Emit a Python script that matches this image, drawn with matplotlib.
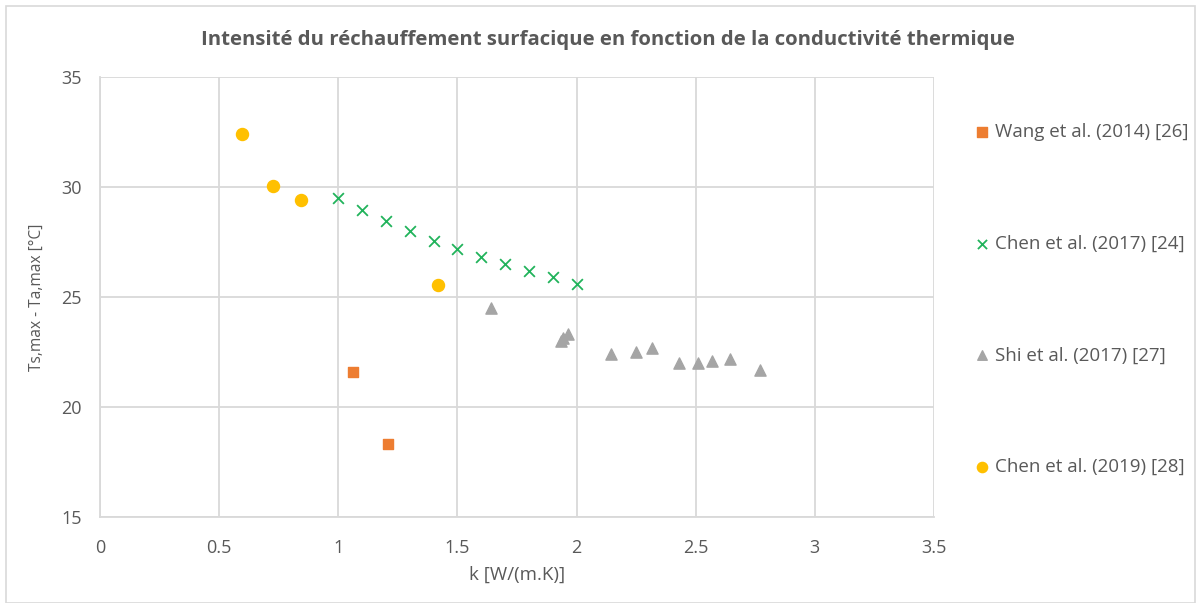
import matplotlib.pyplot as plt
from matplotlib.patches import Rectangle

# données
wang_k = [1.06, 1.21]
wang_dt = [21.6, 18.3]

chen17_k = [1.0, 1.1, 1.2, 1.3, 1.4, 1.5, 1.6, 1.7, 1.8, 1.9, 2.0]
chen17_dt = [29.5, 28.95, 28.45, 28.0, 27.55, 27.2, 26.8, 26.5, 26.2, 25.9, 25.6]

shi_k = [1.64, 1.935, 1.945, 1.965, 2.145, 2.25, 2.315, 2.43, 2.51, 2.57, 2.645, 2.77]
shi_dt = [24.5, 23.0, 23.15, 23.3, 22.4, 22.5, 22.7, 22.0, 22.0, 22.1, 22.2, 21.7]

chen19_k = [0.595, 0.725, 0.845, 1.42]
chen19_dt = [32.4, 30.05, 29.4, 25.55]

xticks = [0, 0.5, 1, 1.5, 2, 2.5, 3, 3.5]
yticks = [15, 20, 25, 30, 35]

plt.rcParams['font.family'] = ['Open Sans', 'DejaVu Sans']
txt = '#595959'
grid = '#D9D9D9'

fig = plt.figure(figsize=(12.01, 6.03), dpi=100)
ax = fig.add_axes([100/1201, 1-517/603, 834/1201, 440/603])

ax.scatter(wang_k, wang_dt, marker='s', s=60, color='#ED7D31', label='Wang et al. (2014) [26]', zorder=3)
ax.scatter(chen17_k, chen17_dt, marker='x', s=60, color='#21B35B', linewidths=1.3, label='Chen et al. (2017) [24]', zorder=3)
ax.scatter(shi_k, shi_dt, marker='^', s=65, color='#A5A5A5', label='Shi et al. (2017) [27]', zorder=3)
ax.scatter(chen19_k, chen19_dt, marker='o', s=75, color='#FFC000', label='Chen et al. (2019) [28]', zorder=3)

ax.set_xlim(0, 3.5)
ax.set_ylim(15, 35)
ax.set_xticks(xticks)
ax.set_xticklabels(['0', '0.5', '1', '1.5', '2', '2.5', '3', '3.5'])
ax.set_yticks(yticks)
ax.grid(True, color=grid, linewidth=1.3)
ax.set_axisbelow(True)
for s in ['top', 'right']:
    ax.spines[s].set_visible(False)
for s in ['left', 'bottom']:
    ax.spines[s].set_color(grid)
    ax.spines[s].set_linewidth(1.3)
ax.tick_params(length=0, labelsize=13, labelcolor=txt)
ax.tick_params(axis='y', pad=13)
ax.tick_params(axis='x', pad=16)
ax.set_xlabel('k [W/(m.K)]', fontsize=13.5, color=txt, labelpad=6)
ax.set_ylabel('Ts,max - Ta,max [°C]', fontsize=11.2, color=txt, labelpad=12)

fig.text(608/1201, 1-40/603, 'Intensité du réchauffement surfacique en fonction de la conductivité thermique',
         ha='center', va='center', fontsize=14.7, fontweight='bold', color=txt)

leg = fig.legend(loc='upper left', bbox_to_anchor=(956/1201, 1-106/603), frameon=False,
                 fontsize=13.5, labelspacing=5.0, handlelength=1.0, handletextpad=0.2,
                 markerscale=0.85)
for t in leg.get_texts():
    t.set_color(txt)

fig.patches.append(Rectangle((6/1201, 0), 1-12/1201, 1-6/603, transform=fig.transFigure,
                             fill=False, edgecolor=grid, linewidth=1.2))

fig.savefig('out.png', dpi=100)
